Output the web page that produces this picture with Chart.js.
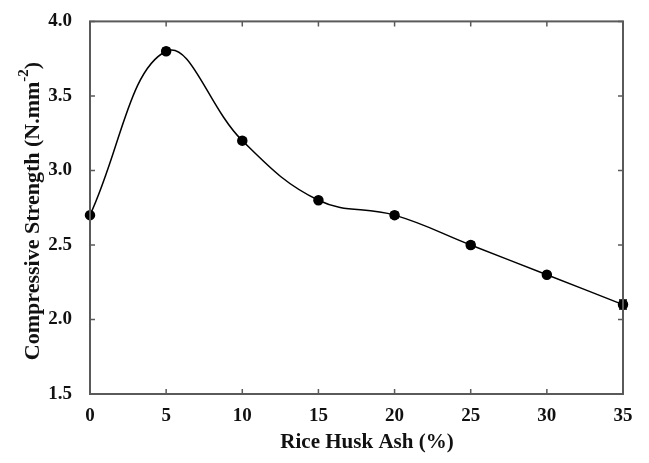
<!DOCTYPE html>
<html>
<head>
<meta charset="utf-8">
<script src="https://cdn.jsdelivr.net/npm/chart.js@4.4.0/dist/chart.umd.min.js"></script>
<style>
    html, body { margin: 0; padding: 0; background: #fff; }
    #wrap { width: 649px; height: 463px; }
</style>
</head>
<body>
<div id="wrap"><canvas id="strengthChart"></canvas></div>
<script>
// Rice husk ash vs compressive strength
const ashPercent = [0, 5, 10, 15, 20, 25, 30, 35];
const strength = [2.7, 3.8, 3.2, 2.8, 2.7, 2.5, 2.3, 2.1];
const strengthErr = [0.01, 0.02, 0.02, 0.01, 0.02, 0.02, 0.01, 0.03];
const xTicks = [0, 5, 10, 15, 20, 25, 30, 35];
const yTicks = [1.5, 2.0, 2.5, 3.0, 3.5, 4.0];

const FONT = '"Liberation Serif", "Times New Roman", serif';
const AXIS_COLOR = '#5a5a5a';

// frame, inward ticks on all sides, error bars, axis titles
const framePlugin = {
    id: 'frame',
    afterDatasetsDraw(chart) {
        const { ctx, chartArea: a, scales } = chart;
        ctx.save();

        // error bars
        ctx.strokeStyle = '#000';
        ctx.lineWidth = 1.5;
        ashPercent.forEach((x, i) => {
            const px = scales.x.getPixelForValue(x);
            const top = scales.y.getPixelForValue(strength[i] + strengthErr[i]);
            const bot = scales.y.getPixelForValue(strength[i] - strengthErr[i]);
            ctx.beginPath();
            ctx.moveTo(px, top); ctx.lineTo(px, bot);
            ctx.moveTo(px - 4, top); ctx.lineTo(px + 4, top);
            ctx.moveTo(px - 4, bot); ctx.lineTo(px + 4, bot);
            ctx.stroke();
        });

        // box
        ctx.strokeStyle = AXIS_COLOR;
        ctx.lineWidth = 2;
        ctx.strokeRect(a.left, a.top, a.right - a.left, a.bottom - a.top);

        // inward ticks
        ctx.lineWidth = 1.5;
        ctx.beginPath();
        xTicks.forEach(v => {
            const px = scales.x.getPixelForValue(v);
            ctx.moveTo(px, a.bottom); ctx.lineTo(px, a.bottom - 5);
            ctx.moveTo(px, a.top); ctx.lineTo(px, a.top + 5);
        });
        yTicks.forEach(v => {
            const py = scales.y.getPixelForValue(v);
            ctx.moveTo(a.left, py); ctx.lineTo(a.left + 5, py);
            ctx.moveTo(a.right, py); ctx.lineTo(a.right - 5, py);
        });
        ctx.stroke();

        // axis titles
        ctx.fillStyle = '#111';
        ctx.textBaseline = 'middle';
        ctx.font = 'bold 21px ' + FONT;
        ctx.textAlign = 'center';
        ctx.fillText('Rice Husk Ash (%)', 367, 443);

        // y title with superscript
        const main = 'Compressive Strength (N.mm';
        const sup = '-2';
        const tail = ')';
        ctx.font = 'bold 22px ' + FONT;
        const wMain = ctx.measureText(main).width;
        const wTail = ctx.measureText(tail).width;
        ctx.font = 'bold 15px ' + FONT;
        const wSup = ctx.measureText(sup).width;
        const total = wMain + wSup + wTail;
        ctx.translate(33, 211);
        ctx.rotate(-Math.PI / 2);
        ctx.textAlign = 'left';
        let x0 = -total / 2;
        ctx.font = 'bold 22px ' + FONT;
        ctx.fillText(main, x0, 0);
        ctx.font = 'bold 15px ' + FONT;
        ctx.fillText(sup, x0 + wMain, -9);
        ctx.font = 'bold 22px ' + FONT;
        ctx.fillText(tail, x0 + wMain + wSup, 0);

        ctx.restore();
    }
};

new Chart(document.getElementById('strengthChart'), {
    type: 'line',
    data: {
        datasets: [{
            data: ashPercent.map((x, i) => ({ x: x, y: strength[i] })),
            borderColor: '#000',
            borderWidth: 1.5,
            backgroundColor: '#000',
            pointRadius: 4.5,
            pointBackgroundColor: '#000',
            tension: 0.4,
            fill: false,
            clip: false
        }]
    },
    options: {
        responsive: true,
        maintainAspectRatio: false,
        animation: false,
        layout: { padding: { top: 21, right: 26, left: 0, bottom: 0 } },
        plugins: {
            legend: { display: false },
            tooltip: { enabled: false }
        },
        scales: {
            x: {
                type: 'linear',
                min: 0,
                max: 35,
                afterFit(scale) { scale.height = 69; },
                afterBuildTicks(scale) { scale.ticks = xTicks.map(v => ({ value: v })); },
                grid: { display: false },
                border: { display: false },
                ticks: {
                    color: '#111',
                    padding: 3,
                    font: { family: FONT, size: 19, weight: 'bold' },
                    callback: v => v
                }
            },
            y: {
                min: 1.5,
                max: 4.0,
                afterFit(scale) { scale.width = 90; },
                afterBuildTicks(scale) { scale.ticks = yTicks.map(v => ({ value: v })); },
                grid: { display: false },
                border: { display: false },
                ticks: {
                    color: '#111',
                    padding: 10,
                    font: { family: FONT, size: 19, weight: 'bold' },
                    callback: v => Number(v).toFixed(1)
                }
            }
        }
    },
    plugins: [framePlugin]
});
</script>
</body>
</html>
